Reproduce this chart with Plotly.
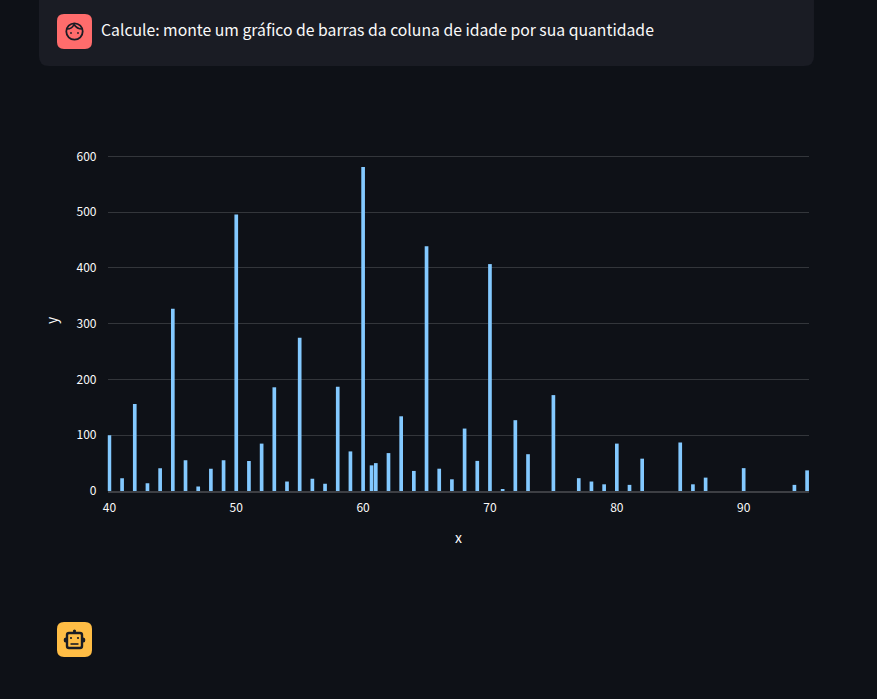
import plotly.graph_objects as go

ages = [40, 41, 42, 43, 44, 45, 46, 47, 48, 49, 50, 51, 52, 53, 54, 55, 56, 57, 58, 59, 60, 60.667, 61,
        62, 63, 64, 65, 66, 67, 68, 69, 70, 71, 72, 73, 75, 77, 78, 79, 80, 81, 82, 85, 86, 87, 90, 94, 95]
counts = [100, 23, 156, 14, 41, 327, 55, 8, 40, 55, 496, 54, 85, 186, 17, 275, 22, 13, 187, 71, 581, 46, 50,
          68, 134, 36, 439, 40, 21, 112, 54, 407, 2, 127, 66, 172, 23, 17, 12, 85, 11, 58, 87, 12, 24, 41, 11, 37]
x_ticks = [40, 50, 60, 70, 80, 90]
y_ticks = [0, 100, 200, 300, 400, 500, 600]
prompt = "Calcule: monte um gráfico de barras da coluna de idade por sua quantidade"

W, H = 877, 699
FONT = "Noto Sans CJK SC"
TXT = "#fafafa"


def px(x):
    return x / W


def py(y):
    return 1 - y / H


def P(x, y):
    return f"{px(x):.5f},{py(y):.5f}"


def round_rect(x0, y0, x1, y1, r):
    return (f"M{P(x0 + r, y0)} L{P(x1 - r, y0)} Q{P(x1, y0)} {P(x1, y0 + r)} "
            f"L{P(x1, y1 - r)} Q{P(x1, y1)} {P(x1 - r, y1)} L{P(x0 + r, y1)} "
            f"Q{P(x0, y1)} {P(x0, y1 - r)} L{P(x0, y0 + r)} Q{P(x0, y0)} {P(x0 + r, y0)} Z")


def deco(path, fill="rgba(0,0,0,0)", line=None, w=0):
    return dict(type="path", xref="paper", yref="paper", path=path, fillcolor=fill,
                line=dict(color=line or "rgba(0,0,0,0)", width=w), layer="above")


def circle(cx, cy, rx, ry, fill="rgba(0,0,0,0)", line=None, w=0):
    return dict(type="circle", xref="paper", yref="paper", x0=px(cx - rx), x1=px(cx + rx),
                y0=py(cy + ry), y1=py(cy - ry), fillcolor=fill,
                line=dict(color=line or "rgba(0,0,0,0)", width=w), layer="above")


DARK = "#1a1c24"
shapes = [
    deco(round_rect(39, -12, 814, 66, 10), fill="#1a1c24"),
    # user avatar
    deco(round_rect(57, 14, 92, 49, 7), fill="#ff6c6c"),
    circle(74.5, 31.5, 8.2, 8.2, line=DARK, w=1.8),
    deco(f"M{P(67, 29)} Q{P(72, 29)} {P(74, 24.5)} Q{P(77, 29)} {P(82, 29)}", line=DARK, w=1.6),
    circle(71, 33, 0.9, 0.9, fill=DARK),
    circle(78, 33, 0.9, 0.9, fill=DARK),
    # bot avatar
    deco(round_rect(57, 622, 92, 657, 7), fill="#ffbd45"),
    deco(round_rect(67, 633, 82, 648, 2), fill="#ffbd45", line=DARK, w=2.4),
    circle(74.5, 631, 1.6, 1.6, fill=DARK),
    circle(65.5, 640, 1.8, 2.6, fill=DARK),
    circle(83.5, 640, 1.8, 2.6, fill=DARK),
    circle(71, 638, 1.1, 1.1, fill=DARK),
    circle(78, 638, 1.1, 1.1, fill=DARK),
    deco(f"M{P(70.5, 644)} L{P(78.5, 644)}", line=DARK, w=1.6),
]

fig = go.Figure(go.Bar(x=ages, y=counts, width=0.29,
                       marker=dict(color="#83c9ff", line=dict(width=0)), showlegend=False))

grid = "rgba(250,250,250,0.16)"
fig.update_layout(
    width=W, height=H, margin=dict(l=0, r=0, t=0, b=0, pad=0), autosize=False,
    paper_bgcolor="#0e1117", plot_bgcolor="#0e1117",
    font=dict(family=FONT, size=12, color=TXT),
    shapes=shapes,
    xaxis=dict(domain=[px(107.5), px(809)], range=[39.85, 95.15], tickmode="array", tickvals=x_ticks,
               automargin=False, showgrid=False, zeroline=False, showline=True,
               linecolor="rgba(250,250,250,0.2)", linewidth=2,
               ticks="", ticklabelstandoff=5, tickfont=dict(family=FONT, size=12, color=TXT)),
    yaxis=dict(domain=[py(491), py(148)], range=[0, 615.2], tickmode="array", tickvals=y_ticks,
               automargin=False, showgrid=True, gridcolor=grid, gridwidth=1, zeroline=False, ticks="",
               ticklabelstandoff=10, tickfont=dict(family=FONT, size=12, color=TXT)),
    annotations=[
        dict(text=prompt, xref="paper", yref="paper", x=px(99), y=py(30), xanchor="left",
             yanchor="middle", showarrow=False, font=dict(family=FONT, size=15.75, color=TXT)),
        dict(text="x", xref="paper", yref="paper", x=px(458.5), y=py(536.5), xanchor="center",
             yanchor="middle", showarrow=False, font=dict(family=FONT, size=14, color=TXT)),
        dict(text="y", xref="paper", yref="paper", x=px(51), y=py(320), xanchor="center",
             yanchor="middle", showarrow=False, textangle=-90, font=dict(family=FONT, size=14, color=TXT)),
    ],
)

fig.write_html("out.html", config=dict(displayModeBar=False),
               post_script="document.body.style.margin='0';document.body.style.background='#0e1117';document.body.style.overflow='hidden';")
